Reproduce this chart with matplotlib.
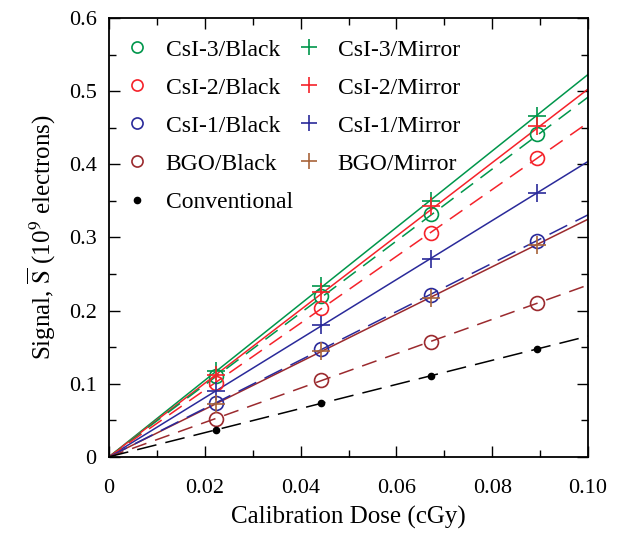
import numpy as np
import matplotlib
matplotlib.use("Agg")
import matplotlib.pyplot as plt
import matplotlib.lines as mlines
from matplotlib.ticker import MultipleLocator

plt.rcParams['font.family'] = ['Liberation Serif', 'DejaVu Serif']
plt.rcParams['mathtext.fontset'] = 'stix'

# ============== 数据 ==============
dose = [0.0223, 0.0442, 0.0672, 0.0893]

csi3_black = [0.110, 0.220, 0.332, 0.442]
csi2_black = [0.101, 0.204, 0.306, 0.408]
csi1_black = [0.074, 0.147, 0.221, 0.295]
bgo_black = [0.052, 0.105, 0.157, 0.210]
conventional = [0.037, 0.074, 0.111, 0.147]

csi3_mirror = [0.117, 0.233, 0.350, 0.466]
csi2_mirror = [0.112, 0.225, 0.343, 0.452]
csi1_mirror = [0.090, 0.180, 0.271, 0.361]
bgo_mirror = [0.072, 0.145, 0.217, 0.289]

# 拟合直线斜率 (signal per cGy)
slope_black = {'csi3': 4.92, 'csi2': 4.57, 'csi1': 3.31, 'bgo': 2.35, 'conv': 1.65}
slope_mirror = {'csi3': 5.23, 'csi2': 5.03, 'csi1': 4.04, 'bgo': 3.25}

xtick_labels = ['0', '0.02', '0.04', '0.06', '0.08', '0.10']
ytick_labels = ['0', '0.1', '0.2', '0.3', '0.4', '0.5', '0.6']

GREEN = '#00964b'
RED = '#f5222a'
BLUE = '#2a2a9a'
MAROON = '#9b2a2e'
BROWN = '#a8643a'

fig = plt.figure(figsize=(6.23, 5.33), dpi=100)
ax = fig.add_axes([0.175, 0.143, 0.769, 0.823])

xl = np.array([0.0, 0.10])
FS = 16

# 拟合线
ax.plot(xl, slope_mirror['csi3'] * xl, color=GREEN, lw=1.1)
ax.plot(xl, slope_mirror['csi2'] * xl, color=RED, lw=1.1)
ax.plot(xl, slope_mirror['csi1'] * xl, color=BLUE, lw=1.1)
ax.plot(xl, slope_mirror['bgo'] * xl, color=MAROON, lw=1.1)
dash = (0, (10, 6))
long_dash = (0, (13, 6))
ax.plot(xl, slope_black['csi3'] * xl, color=GREEN, lw=1.1, ls=dash)
ax.plot(xl, slope_black['csi2'] * xl, color=RED, lw=1.1, ls=dash)
ax.plot(xl, slope_black['csi1'] * xl, color=BLUE, lw=1.1, ls=long_dash)
ax.plot(xl, slope_black['bgo'] * xl, color=MAROON, lw=1.1, ls=dash)
ax.plot(xl, slope_black['conv'] * xl, color='black', lw=1.1, ls=long_dash)

# 数据点
ms_o = 10
ms_p = 13
ax.plot(dose, csi3_black, 'o', mfc='none', mec=GREEN, ms=ms_o, mew=1.2)
ax.plot(dose, csi2_black, 'o', mfc='none', mec=RED, ms=ms_o, mew=1.2)
ax.plot(dose, csi1_black, 'o', mfc='none', mec=BLUE, ms=ms_o, mew=1.2)
ax.plot(dose, bgo_black, 'o', mfc='none', mec=MAROON, ms=ms_o, mew=1.2)
ax.plot(dose, conventional, 'o', color='black', ms=4.5)
ax.plot(dose, csi3_mirror, '+', color=GREEN, ms=ms_p, mew=1.2)
ax.plot(dose, csi2_mirror, '+', color=RED, ms=ms_p, mew=1.2)
ax.plot(dose, csi1_mirror, '+', color=BLUE, ms=ms_p, mew=1.2)
ax.plot(dose, bgo_mirror, '+', color=BROWN, ms=ms_p, mew=1.2)


def lh(marker, color, filled=False, ms=8):
    """图例用的小标记"""
    if filled:
        return mlines.Line2D([], [], ls='none', marker=marker, color=color, ms=4.5)
    if marker == 'o':
        return mlines.Line2D([], [], ls='none', marker='o', mfc='none', mec=color, ms=ms, mew=1.2)
    return mlines.Line2D([], [], ls='none', marker='+', color=color, ms=ms + 3, mew=1.2)


handles = [lh('o', GREEN), lh('o', RED), lh('o', BLUE), lh('o', MAROON), lh('o', 'black', True),
           lh('+', GREEN), lh('+', RED), lh('+', BLUE), lh('+', BROWN)]
labels = ['CsI-3/Black', 'CsI-2/Black', 'CsI-1/Black', 'BGO/Black', 'Conventional',
          'CsI-3/Mirror', 'CsI-2/Mirror', 'CsI-1/Mirror', 'BGO/Mirror']
ax.legend(handles, labels, ncol=2, loc='upper left', frameon=False, fontsize=FS + 1,
          handlelength=1.0, handletextpad=0.7, columnspacing=0.2, labelspacing=0.7,
          borderaxespad=0.3, bbox_to_anchor=(0.0, 0.99))

ax.set_xlim(0, 0.10)
ax.set_ylim(0, 0.6)
ax.set_xticks([0, 0.02, 0.04, 0.06, 0.08, 0.10])
ax.set_xticklabels(xtick_labels)
ax.set_yticks([0, 0.1, 0.2, 0.3, 0.4, 0.5, 0.6])
ax.set_yticklabels(ytick_labels)
ax.xaxis.set_minor_locator(MultipleLocator(0.01))
ax.yaxis.set_minor_locator(MultipleLocator(0.05))
ax.tick_params(which='both', direction='in', top=True, right=True, labelsize=FS)
ax.tick_params(axis='x', pad=16)
ax.tick_params(axis='y', pad=9)
ax.tick_params(which='major', length=8, width=1.0)
ax.tick_params(which='minor', length=5, width=1.0)
for s in ax.spines.values():
    s.set_linewidth(1.3)

ax.set_xlabel('Calibration Dose (cGy)', fontsize=FS + 2, labelpad=6)
ax.set_ylabel(r'Signal, $\overline{\mathrm{S}}$ (10$^9$ electrons)', fontsize=FS + 2, labelpad=8)

fig.savefig('out.png', dpi=100)
